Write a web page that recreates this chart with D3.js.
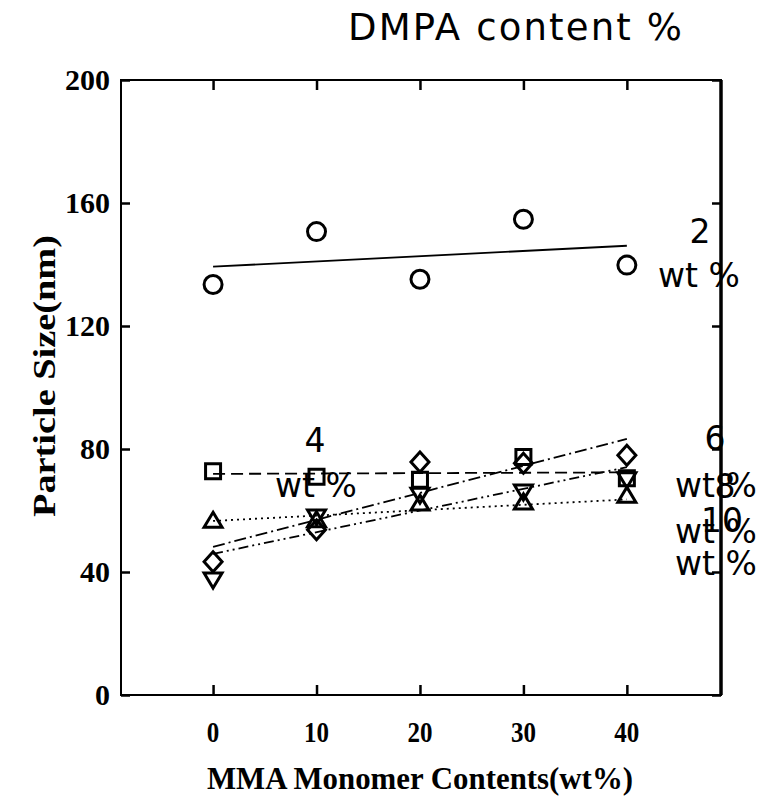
<!DOCTYPE html>
<html><head><meta charset="utf-8">
<script src="https://cdn.jsdelivr.net/npm/d3@7"></script>
<style>body{margin:0;background:#fff}svg{display:block}</style>
</head><body>
<svg id="c" width="758" height="802"></svg>
<script>
// ---- data ----
const mma = [0, 10, 20, 30, 40];
const seriesNames = ["2", "4", "6", "8", "10"];
const dmpa2  = [133.5, 150.7, 135.2, 154.7, 139.8];
const dmpa4  = [72.8, 71.0, 70.0, 77.4, 70.5];
const dmpa6  = [43.3, 53.7, 75.8, 75.4, 78.0];
const dmpa8  = [37.4, 57.9, 65.0, 66.0, 70.0];
const dmpa10 = [56.8, 57.0, 62.4, 62.8, 65.0];
const fitStart = [139.3, 71.9, 48.2, 45.9, 56.6];
const fitEnd   = [146.1, 72.4, 83.3, 74.1, 63.6];
const yTicks = [0, 40, 80, 120, 160, 200];
const xTicks = [0, 10, 20, 30, 40];

const svg = d3.select("#c");
const L = 121, R = 721, T = 80, B = 695;
const x = d3.scaleLinear().domain([-8.9, 49.1]).range([L, R]);
const y = d3.scaleLinear().domain([0, 200]).range([B, T]);

const serif = "'Liberation Serif','Times New Roman',serif";
const sans = "'DejaVu Sans',sans-serif";

// frame
svg.append("rect").attr("x", L).attr("y", T).attr("width", R - L).attr("height", B - T)
  .attr("fill", "none").attr("stroke", "#000").attr("stroke-width", 2);
svg.append("line").attr("x1", R).attr("x2", R).attr("y1", T).attr("y2", B)
  .attr("stroke", "#000").attr("stroke-width", 3.5);

// axes (ticks inward)
const gl = svg.append("g").attr("transform", `translate(${L},0)`)
  .call(d3.axisRight(y).tickValues(yTicks).tickSize(9).tickFormat(""));
const gr = svg.append("g").attr("transform", `translate(${R},0)`)
  .call(d3.axisLeft(y).tickValues(yTicks).tickSize(9).tickFormat(""));
const gb = svg.append("g").attr("transform", `translate(0,${B})`)
  .call(d3.axisTop(x).tickValues(xTicks).tickSize(10).tickFormat(""));
const gt = svg.append("g").attr("transform", `translate(0,${T})`)
  .call(d3.axisBottom(x).tickValues(xTicks).tickSize(10).tickFormat(""));
[gl, gr, gb, gt].forEach(g => {
  g.select(".domain").remove();
  g.selectAll(".tick line").attr("stroke", "#000").attr("stroke-width", 2.5);
});

// tick labels
svg.append("g").selectAll("text").data(yTicks).join("text")
  .attr("x", 110).attr("y", d => y(d) + 10).attr("text-anchor", "end")
  .attr("font-family", serif).attr("font-weight", "bold").attr("font-size", 30)
  .attr("textLength", d => String(d).length * 15).attr("lengthAdjust", "spacingAndGlyphs")
  .text(d => d);
svg.append("g").selectAll("text").data(xTicks).join("text")
  .attr("x", d => x(d)).attr("y", 742).attr("text-anchor", "middle")
  .attr("font-family", serif).attr("font-weight", "bold").attr("font-size", 30)
  .attr("textLength", d => String(d).length * 12.5).attr("lengthAdjust", "spacingAndGlyphs")
  .text(d => d);

// axis titles
svg.append("text").attr("x", 420).attr("y", 789).attr("text-anchor", "middle")
  .attr("font-family", serif).attr("font-weight", "bold").attr("font-size", 32)
  .attr("textLength", 426).attr("lengthAdjust", "spacingAndGlyphs")
  .text("MMA Monomer Contents(wt%)");
svg.append("text").attr("transform", "translate(55,376) rotate(-90)").attr("text-anchor", "middle")
  .attr("font-family", serif).attr("font-weight", "bold").attr("font-size", 32)
  .attr("textLength", 282).attr("lengthAdjust", "spacingAndGlyphs")
  .text("Particle Size(nm)");

// title
svg.append("text").attr("x", 348).attr("y", 40)
  .attr("font-family", sans).attr("font-size", 37)
  .attr("textLength", 334).attr("lengthAdjust", "spacing")
  .text("DMPA content %");

// fit lines
const dashes = [null, "12,6", "12,4,2,4", "10,4,2,4,2,4", "2,4"];
svg.append("g").selectAll("line").data(seriesNames).join("line")
  .attr("x1", x(mma[0])).attr("x2", x(mma[mma.length - 1]))
  .attr("y1", (d, i) => y(fitStart[i])).attr("y2", (d, i) => y(fitEnd[i]))
  .attr("stroke", "#000").attr("stroke-width", 1.8)
  .attr("stroke-dasharray", (d, i) => dashes[i]);

// markers
const shapes = {
  circle: "M9,0A9,9 0 1,1 -9,0A9,9 0 1,1 9,0Z",
  square: "M-7.5,-7.5H7.5V7.5H-7.5Z",
  up: "M0,-8L9,7H-9Z",
  diamond: "M0,-10L9,0L0,10L-9,0Z",
  down: "M0,8L9,-7H-9Z"
};
const all = [
  { v: dmpa2, s: "circle" }, { v: dmpa4, s: "square" }, { v: dmpa6, s: "diamond" },
  { v: dmpa8, s: "down" }, { v: dmpa10, s: "up" }
];
all.forEach(ser => {
  svg.append("g").selectAll("path").data(ser.v).join("path")
    .attr("d", shapes[ser.s])
    .attr("transform", (d, i) => `translate(${x(mma[i])},${y(d)})`)
    .attr("fill", "none").attr("stroke", "#000").attr("stroke-width", 3);
});

// series labels
const labelPos = [[700, 243, 658, 287], [315, 452, 275, 497], [715, 450, 675, 497],
                  [725, 498, 675, 543], [722, 532, 675, 575]];
seriesNames.forEach((n, i) => {
  const p = labelPos[i];
  svg.append("text").attr("x", p[0]).attr("y", p[1]).attr("text-anchor", "middle")
    .attr("font-family", sans).attr("font-size", 33).text(n);
  svg.append("text").attr("x", p[2]).attr("y", p[3])
    .attr("font-family", sans).attr("font-size", 33).text("wt %");
});
</script>
</body></html>
